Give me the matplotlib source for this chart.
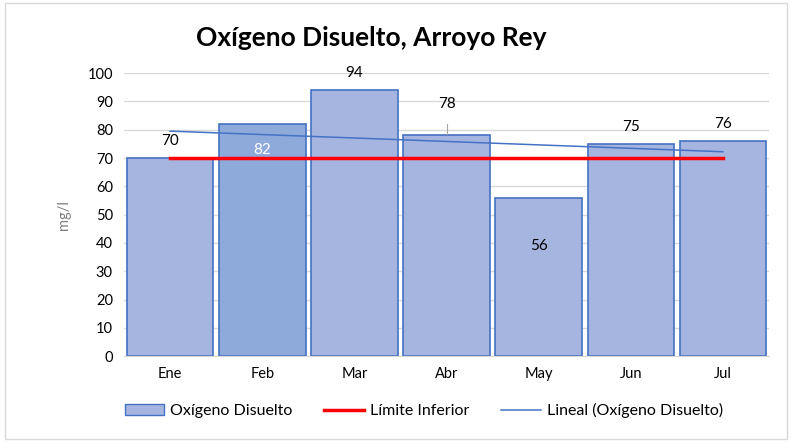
import numpy as np
import matplotlib.pyplot as plt
from matplotlib.patches import Rectangle
from matplotlib.lines import Line2D

meses = ['Ene', 'Feb', 'Mar', 'Abr', 'May', 'Jun', 'Jul']
oxigeno = [70, 82, 94, 78, 56, 75, 76]
limite = [70, 70, 70, 70, 70, 70, 70]

plt.rcParams['font.family'] = ['Lato', 'DejaVu Sans']

fig = plt.figure(figsize=(7.92, 4.43), dpi=100)
fig.patches.append(Rectangle((0.006, 0.008), 0.988, 0.985, transform=fig.transFigure,
                             fill=False, edgecolor='#d9d9d9', linewidth=1))
ax = fig.add_axes([0.1566, 0.196, 0.8144, 0.639])

x = np.arange(len(meses))
colores = ['#a6b4e0'] * len(meses)
colores[1] = '#8eaadb'
bars = ax.bar(x, oxigeno, width=0.94, color=colores, edgecolor='#4472c4', linewidth=1.2, zorder=2)

ax.plot(x, limite, color='#ff0000', linewidth=2.5, zorder=3)

# linea de tendencia
m, b = np.polyfit(x, oxigeno, 1)
ax.plot(x, m * x + b, color='#4472c4', linewidth=1.1, zorder=4)

# etiquetas de datos
offsets = {0: 6, 1: -9, 2: 6, 3: 11, 4: -17, 5: 6, 6: 6}
for i, v in enumerate(oxigeno):
    col = 'white' if i == 1 else '#000000'
    ax.text(i, v + offsets[i], str(v), ha='center', va='center', fontsize=11, color=col, zorder=5)
ax.plot([3, 3], [78.5, 82], color='#a6a6a6', linewidth=0.8, zorder=5)

ax.set_xlim(-0.5, 6.5)
ax.set_ylim(0, 100)
ax.set_yticks(range(0, 101, 10))
ax.set_xticks(x)
ax.set_xticklabels(meses)
ax.tick_params(axis='both', length=0, labelsize=10.5, colors='#000000', pad=8)
ax.grid(axis='y', color='#d9d9d9', linewidth=1, zorder=0)
ax.set_axisbelow(True)
for s in ['top', 'right', 'left']:
    ax.spines[s].set_visible(False)
ax.spines['bottom'].set_color('#d9d9d9')
ax.set_ylabel('mg/l', color='#7f7f7f', fontsize=10.5, labelpad=12)

fig.text(0.469, 0.914, 'Oxígeno Disuelto, Arroyo Rey', ha='center', va='center',
         fontsize=19, fontweight='bold')

handles = [Rectangle((0, 0), 1, 1, facecolor='#a6b4e0', edgecolor='#4472c4'),
           Line2D([0], [0], color='#ff0000', linewidth=2.5),
           Line2D([0], [0], color='#4472c4', linewidth=1.1)]
fig.legend(handles, ['Oxígeno Disuelto', 'Límite Inferior', 'Lineal (Oxígeno Disuelto)'],
           loc='center', bbox_to_anchor=(0.535, 0.073), ncol=3, frameon=False,
           fontsize=11.5, handlelength=2.5, handletextpad=0.35, columnspacing=2.0)

fig.savefig('out.png', dpi=100)
